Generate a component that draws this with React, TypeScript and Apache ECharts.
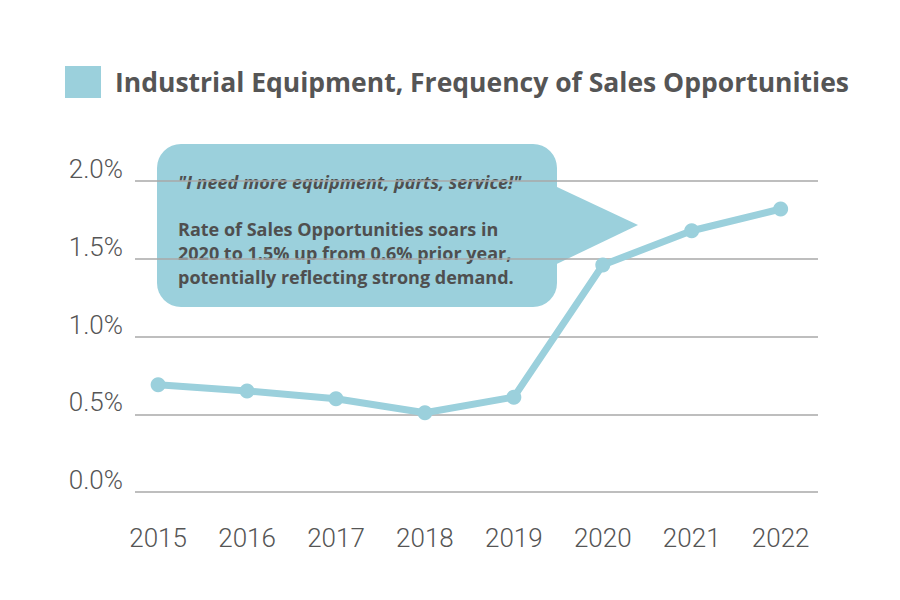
import React, { useEffect, useRef } from "react";
import * as echarts from "echarts";

const years = [2015, 2016, 2017, 2018, 2019, 2020, 2021, 2022];
const rates = [0.69, 0.65, 0.6, 0.51, 0.61, 1.46, 1.68, 1.82];
const yTicks = [0, 0.5, 1.0, 1.5, 2.0];
const seriesName = "Industrial Equipment, Frequency of Sales Opportunities";
const calloutQuote = '"I need more equipment, parts, service!"';
const calloutLines = [
  "Rate of Sales Opportunities soars in",
  "2020 to 1.5% up from 0.6% prior year,",
  "potentially reflecting strong demand.",
];

const TEAL = "#9bd0dc";
const TEXT = "#555555";

export default function App() {
  const ref = useRef<HTMLDivElement>(null);
  useEffect(() => {
    if (!ref.current) return;
    const chart = echarts.init(ref.current, null, { renderer: "svg" });
    const option = {
      animation: false,
      backgroundColor: "#ffffff",
      legend: {
        left: 60,
        top: 61,
        icon: "rect",
        itemWidth: 36,
        itemHeight: 32,
        data: [seriesName],
        selectedMode: false,
        textStyle: {
          fontFamily: "'Open Sans', sans-serif",
          fontWeight: "bold",
          fontSize: 26.5,
          color: TEXT,
          padding: [0, 0, 0, 9],
        },
      },
      grid: { left: 135, right: 82, top: 181, bottom: 108 },
      xAxis: {
        type: "value",
        min: 2014.74,
        max: 2022.42,
        splitLine: { show: false },
        axisLine: { show: false },
        axisTick: { show: false },
        axisLabel: {
          customValues: years,
          margin: 33,
          fontSize: 26,
          color: TEXT,
          fontFamily: "Roboto, 'Liberation Sans', sans-serif",
          fontWeight: 300,
          formatter: (v: number) => String(v),
        },
      },
      yAxis: {
        type: "value",
        min: 0,
        max: 2,
        interval: 0.5,
        axisLine: { show: false },
        axisTick: { show: false },
        splitLine: { lineStyle: { color: "#a8a8a8", width: 1.5 } },
        axisLabel: {
          customValues: yTicks,
          margin: 12,
          fontSize: 26,
          color: TEXT,
          fontFamily: "Roboto, 'Liberation Sans', sans-serif",
          fontWeight: 300,
          verticalAlign: "bottom",
          lineHeight: 24,
          formatter: (v: number) => v.toFixed(1) + "%",
        },
      },
      series: [
        {
          name: seriesName,
          type: "line",
          data: years.map((y, i) => [y, rates[i]]),
          symbol: "circle",
          symbolSize: 15,
          lineStyle: { color: TEAL, width: 7 },
          itemStyle: { color: TEAL },
          z: 3,
        },
      ],
      graphic: [
        {
          type: "group",
          z: 10,
          children: [
            {
              type: "polygon",
              shape: { points: [[540, 179], [638, 225], [540, 272]] },
              style: { fill: TEAL },
            },
            {
              type: "rect",
              shape: { x: 157, y: 144, width: 400, height: 163, r: 24 },
              style: { fill: TEAL },
            },
            {
              type: "text",
              x: 178,
              y: 182,
              style: {
                text: calloutQuote,
                fontFamily: "'Open Sans', sans-serif",
                fontStyle: "italic",
                fontWeight: "bold",
                fontSize: 18,
                fill: "#4f4f4f",
                verticalAlign: "middle",
              },
            },
            ...calloutLines.map((line, i) => ({
              type: "text",
              x: 178,
              y: 229 + i * 24,
              style: {
                text: line,
                fontFamily: "'Open Sans', sans-serif",
                fontWeight: "bold",
                fontSize: 18,
                fill: "#4f4f4f",
                verticalAlign: "middle",
              },
            })),
          ],
        },
      ],
    };
    chart.setOption(option as any);
    return () => chart.dispose();
  }, []);
  return (
    <div
      ref={ref}
      style={{ position: "absolute", left: 0, top: 0, width: 900, height: 600 }}
    />
  );
}
